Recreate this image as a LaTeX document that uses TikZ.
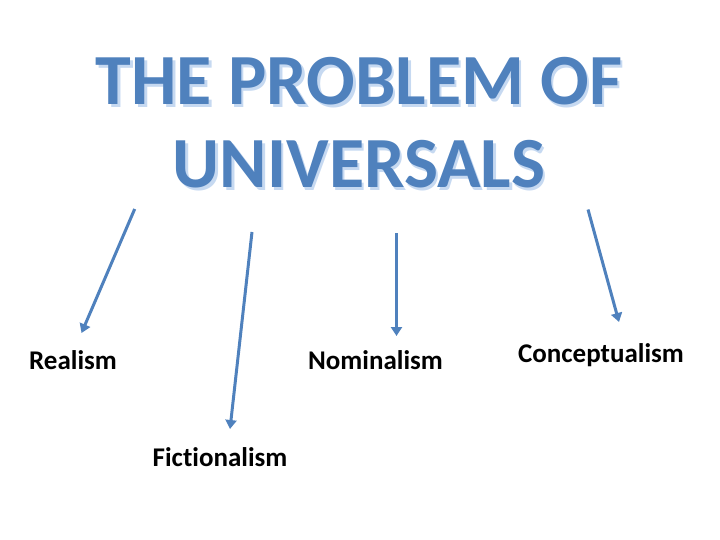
\documentclass[tikz,border=0pt]{standalone}
\usepackage{fontspec}
\setmainfont{Carlito}[Ligatures=NoCommon]
\usetikzlibrary{arrows.meta}
\definecolor{titleblue}{HTML}{4F81BD}
\definecolor{shadowblue}{HTML}{C6D9F1}

\begin{document}
\begin{tikzpicture}[x=1pt, y=-1pt,
  titletext/.style={align=center, anchor=base, inner sep=0pt,
    font=\fontsize{72}{83}\selectfont\bfseries},
  label/.style={anchor=base, inner sep=0pt, font=\fontsize{27}{32}\selectfont\bfseries},
  branch/.style={titleblue, line width=3pt, -{Triangle[length=9pt, width=11pt]}}]
  \useasboundingbox (0,0) rectangle (720,540);

  % Title with shadow
  \node[titletext, text=shadowblue] (titleshadow) at (361.5,190.5) {THE PROBLEM OF\\UNIVERSALS};
  \node[titletext, text=titleblue] (title) at (359,188) {THE PROBLEM OF\\UNIVERSALS};

  % Branch labels
  \node[label] (realism) at (73,369) {Realism};
  \node[label] (nominalism) at (375.5,369) {Nominalism};
  \node[label] (conceptualism) at (601,362) {Conceptualism};
  \node[label] (fictionalism) at (220,466) {Fictionalism};

  % Arrow ends
  \coordinate (r0) at (134.7,209);   \coordinate (r1) at (81.5,333);
  \coordinate (f0) at (252,232);     \coordinate (f1) at (230,429);
  \coordinate (n0) at (396.5,233);   \coordinate (n1) at (396.5,336);
  \coordinate (c0) at (588,209.5);   \coordinate (c1) at (619,322);

  % Arrows
  \draw[branch] (r0) -- (r1);
  \draw[branch] (f0) -- (f1);
  \draw[branch] (n0) -- (n1);
  \draw[branch] (c0) -- (c1);
\end{tikzpicture}
\end{document}
